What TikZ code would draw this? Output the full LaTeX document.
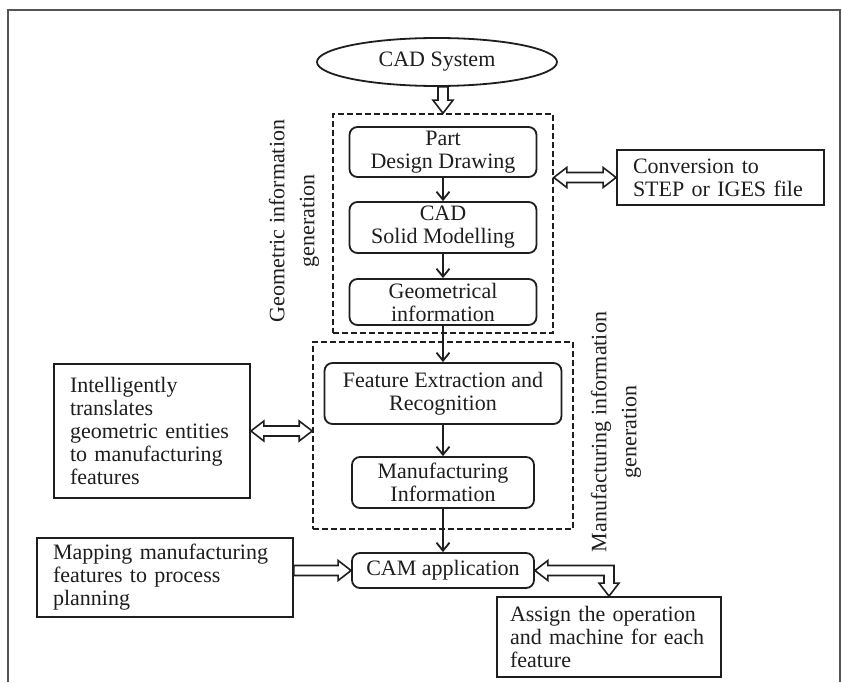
\documentclass[tikz,border=0pt]{standalone}
\usepackage{fontspec}
\setmainfont{Liberation Serif}
\usetikzlibrary{shapes.geometric,arrows.meta,calc}

\definecolor{ink}{HTML}{1E1E1E}
\definecolor{framegray}{HTML}{555555}

% Outlined block arrows (shaft half-width 5, head half-width 10, head length 13)
\newcommand\hollowDouble[2]{% #1 left tip, #2 right tip
  \draw[hollow] (#1) -- ($(#1)+(13,10)$) -- ($(#1)+(13,5)$) -- ($(#2)+(-13,5)$)
    -- ($(#2)+(-13,10)$) -- (#2) -- ($(#2)+(-13,-10)$) -- ($(#2)+(-13,-5)$)
    -- ($(#1)+(13,-5)$) -- ($(#1)+(13,-10)$) -- cycle;}
\newcommand\hollowRight[2]{% #1 tail, #2 tip
  \draw[hollow] ($(#1)+(0,5)$) -- ($(#2)+(-13,5)$) -- ($(#2)+(-13,10)$) -- (#2)
    -- ($(#2)+(-13,-10)$) -- ($(#2)+(-13,-5)$) -- ($(#1)+(0,-5)$) -- cycle;}
\newcommand\hollowDown[2]{% #1 tail, #2 tip
  \draw[hollow] ($(#1)+(-5,0)$) -- ($(#2)+(-5,13)$) -- ($(#2)+(-10,13)$) -- (#2)
    -- ($(#2)+(10,13)$) -- ($(#2)+(5,13)$) -- ($(#1)+(5,0)$) -- cycle;}
\newcommand\hollowElbow[2]{% #1 left-pointing tip, #2 down-pointing tip
  \path (#2 |- #1) coordinate (elbowpt);
  \draw[hollow] (#1) -- ($(#1)+(13,10)$) -- ($(#1)+(13,5)$) -- ($(elbowpt)+(5,5)$)
    -- ($(#2)+(5,13)$) -- ($(#2)+(10,13)$) -- (#2) -- ($(#2)+(-10,13)$)
    -- ($(#2)+(-5,13)$) -- ($(elbowpt)+(-5,-5)$) -- ($(#1)+(13,-5)$)
    -- ($(#1)+(13,-10)$) -- cycle;}

\begin{document}
\begin{tikzpicture}[x=1pt,y=1pt,
  every node/.style={font=\fontsize{22}{23}\selectfont, inner sep=0pt, text=ink},
  proc/.style={draw=ink, line width=1.8pt, rounded corners=8pt, align=center},
  note/.style={draw=ink, line width=1.8pt, align=left},
  grp/.style={draw=ink, line width=1.6pt, dash pattern=on 6pt off 3pt},
  flow/.style={draw=ink, line width=1.8pt, -{Straight Barb[length=8pt,width=13pt]}},
  hollow/.style={draw=ink, line width=1.6pt, fill=white, line join=miter},
  sidelabel/.style={rotate=90, align=center, font=\fontsize{22}{30}\selectfont},
]
\useasboundingbox (0,0) rectangle (842,-682);
\fill[white] (0,0) rectangle (842,-682);

% open frame around the chart
\draw[framegray, line width=1.3pt] (8,-682) -- (8,-10) -- (840,-10) -- (840,-682);

% source system
\node[draw=ink, line width=1.8pt, ellipse, minimum width=240, minimum height=48]
  (cad) at (437,-62) {CAD System};

% geometric information group
\node[grp, minimum width=220, minimum height=219] (geo) at (443,-223.5) {};
\node[proc, minimum width=187, minimum height=50] (part)  at (443,-152)   {Part\\Design Drawing};
\node[proc, minimum width=187, minimum height=51] (solid) at (443,-227.5) {CAD\\Solid Modelling};
\node[proc, minimum width=187, minimum height=46] (geom)  at (443,-302)   {Geometrical\\information};
\node[sidelabel] (geolabel) at (294,-221) {Geometric information\\generation};

\node[note, text width=175, inner xsep=16, minimum height=55] (conv) at (720.5,-177.5)
  {Conversion to\\STEP or IGES file};

% manufacturing information group
\node[grp, minimum width=260, minimum height=187] (mfg) at (443,-435.5) {};
\node[proc, minimum width=237, minimum height=61] (feat) at (443,-393.5) {Feature Extraction and\\Recognition};
\node[proc, minimum width=182, minimum height=51] (minfo) at (443,-482.5) {Manufacturing\\Information};
\node[sidelabel] (mfglabel) at (616,-432) {Manufacturing information\\generation};

\node[note, text width=164, inner xsep=16, minimum height=134] (intel) at (152,-431)
  {Intelligently\\translates\\geometric entities\\to manufacturing\\features};

% CAM stage
\node[proc, minimum width=182, minimum height=35] (cam) at (443,-570.5) {CAM application};
\node[note, text width=224, inner xsep=16, minimum height=79] (map) at (165,-577.5)
  {Mapping manufacturing\\features to process\\planning};
\node[note, text width=198, inner xsep=13, minimum height=80] (assign) at (609,-637)
  {Assign the operation\\and machine for each\\feature};

% main flow
\draw[flow] (part.south) -- (solid.north);
\draw[flow] (solid.south) -- (geom.north);
\draw[flow] (geom.south) -- (feat.north);
\draw[flow] (feat.south) -- (minfo.north);
\draw[flow] (minfo.south) -- (cam.north);

% block arrows
\coordinate (cadOut) at (geo.north |- cad.south);
\hollowDown{cadOut}{geo.north}
\coordinate (geoR) at (geo.east |- conv.west);
\hollowDouble{geoR}{conv.west}
\coordinate (mfgL) at (mfg.west |- intel.east);
\hollowDouble{intel.east}{mfgL}
\coordinate (mapR) at (map.east |- cam.west);
\hollowRight{mapR}{cam.west}
\hollowElbow{cam.east}{assign.north}
\end{tikzpicture}
\end{document}
